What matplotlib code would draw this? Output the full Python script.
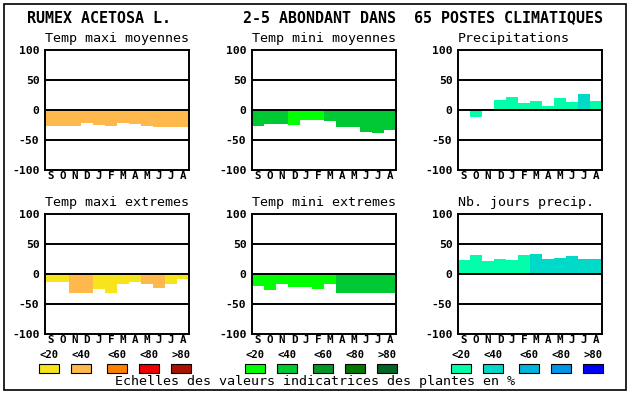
import matplotlib
matplotlib.use("Agg")
import matplotlib.pyplot as plt
from matplotlib.patches import Rectangle

plt.rcParams['font.family'] = ['DejaVu Sans Mono']

months = ["S", "O", "N", "D", "J", "F", "M", "A", "M", "J", "J", "A"]
classes = ["<20", "<40", "<60", "<80", ">80"]

# colour scales (one per column)
temp_max_colors = ['#F8E41C', '#FFB84C', '#FF7F00', '#EE0000', '#AA1100']
temp_min_colors = ['#00FF00', '#00C832', '#009628', '#007800', '#006428']
precip_colors = ['#00FFAA', '#00D8C8', '#00B4DC', '#0096E6', '#0000FF']

# values (%) and class index per month
tmax_moy = [-26, -26, -26, -22, -25, -26, -22, -23, -26, -28, -28, -28]
tmax_moy_cls = [1, 1, 1, 1, 1, 1, 1, 1, 1, 1, 1, 1]
tmin_moy = [-26, -24, -23, -25, -16, -17, -18, -28, -28, -36, -38, -33]
tmin_moy_cls = [1, 1, 1, 0, 0, 0, 1, 1, 1, 1, 1, 1]
precip = [2, -12, 2, 17, 22, 12, 15, 7, 20, 13, 27, 15]
precip_cls = [0, 0, 0, 0, 0, 0, 0, 0, 0, 0, 1, 0]
tmax_ext = [-14, -14, -32, -32, -25, -32, -16, -14, -16, -24, -16, -8]
tmax_ext_cls = [0, 0, 1, 1, 0, 0, 0, 0, 1, 1, 0, 0]
tmin_ext = [-20, -27, -16, -21, -22, -25, -17, -31, -32, -32, -32, -31]
tmin_ext_cls = [0, 0, 0, 0, 0, 0, 0, 1, 1, 1, 1, 1]
jours = [24, 32, 22, 25, 24, 32, 34, 25, 27, 30, 25, 25]
jours_cls = [0, 0, 0, 0, 0, 0, 1, 1, 1, 1, 1, 1]

W, H = 630, 394
fig = plt.figure(figsize=(W / 100, H / 100), dpi=100)

panels = [
    ("Temp maxi moyennes", tmax_moy, tmax_moy_cls, temp_max_colors, 45, 50),
    ("Temp mini moyennes", tmin_moy, tmin_moy_cls, temp_min_colors, 252, 50),
    ("Precipitations", precip, precip_cls, precip_colors, 458, 50),
    ("Temp maxi extremes", tmax_ext, tmax_ext_cls, temp_max_colors, 45, 214),
    ("Temp mini extremes", tmin_ext, tmin_ext_cls, temp_min_colors, 252, 214),
    ("Nb. jours precip.", jours, jours_cls, precip_colors, 458, 214),
]

for title, vals, cls, cols, px, py in panels:
    ax = fig.add_axes([px / W, (H - py - 120) / H, 144 / W, 120 / H])
    ax.bar(range(12), vals, width=1, align='edge',
           color=[cols[c] for c in cls], zorder=1)
    for yv in (50, 0, -50):
        ax.axhline(yv, color='black', lw=1.4, zorder=3)
    ax.set_xlim(0, 12)
    ax.set_ylim(-100, 100)
    ax.set_yticks([-100, -50, 0, 50, 100])
    ax.set_yticklabels(["-100", "-50", "0", "50", "100"],
                       fontsize=8.2, fontweight='bold')
    ax.set_xticks([i + 0.5 for i in range(12)])
    ax.set_xticklabels(months, fontsize=7.8, fontweight='bold')
    ax.tick_params(length=0, pad=0.8)
    ax.tick_params(axis='y', pad=4)
    for s in ax.spines.values():
        s.set_linewidth(1.4)
    ax.set_title(title, fontsize=9.6, pad=6, loc='left', x=0.0)

# overlay in pixel coordinates for titles, legends and frame
ov = fig.add_axes([0, 0, 1, 1])
ov.set_xlim(0, W)
ov.set_ylim(H, 0)
ov.axis('off')
ov.add_patch(Rectangle((4, 4), 622, 386, fill=False, lw=1.2, ec='black'))
ov.text(27, 18, "RUMEX ACETOSA L.", fontsize=10.8, fontweight='bold',
        ha='left', va='center')
ov.text(243, 18, "2-5 ABONDANT DANS  65 POSTES CLIMATIQUES", fontsize=10.8,
        fontweight='bold', ha='left', va='center')

box_x = [0, 32, 68, 100, 132]
for x0, cols in ((39, temp_max_colors), (245, temp_min_colors), (451, precip_colors)):
    for i, (lab, c) in enumerate(zip(classes, cols)):
        bx = x0 + box_x[i]
        ov.text(bx + 10, 355.5, lab, fontsize=7.6, fontweight='bold',
                ha='center', va='center')
        ov.add_patch(Rectangle((bx, 364), 20, 9, fc=c, ec='black', lw=0.8))

ov.text(315, 382, "Echelles des valeurs indicatrices des plantes en %",
        fontsize=9.6, ha='center', va='center')

fig.savefig("out.png", dpi=100)
